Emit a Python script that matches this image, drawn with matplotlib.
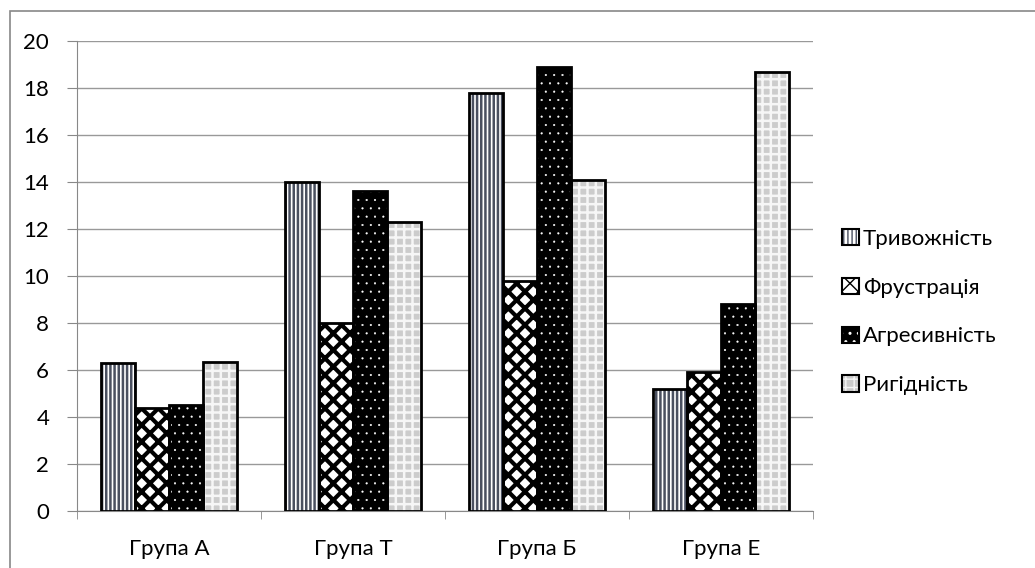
import matplotlib
matplotlib.use("Agg")
import matplotlib.pyplot as plt
import numpy as np
from matplotlib.patches import Rectangle

plt.rcParams["font.family"] = ["Lato", "DejaVu Sans"]

groups = ["Група А", "Група Т", "Група Б", "Група Е"]
series = ["Тривожність", "Фрустрація", "Агресивність", "Ригідність"]
tryvozhnist = [6.3, 14.0, 17.8, 5.2]
frustratsiia = [4.4, 8.0, 9.8, 5.9]
agresyvnist = [4.5, 13.6, 18.9, 8.8]
rygidnist = [6.35, 12.3, 14.1, 18.7]
values = [tryvozhnist, frustratsiia, agresyvnist, rygidnist]

# face colour, hatch, hatch colour, hatch line width
styles = [
    ("white", "||||", "#4a5060", 1.8),
    ("white", "xx", "black", 3.0),
    ("black", "..", "white", 0.3),
    ("#cccccc", "++", "#f6f6f6", 1.8),
]

fig = plt.figure(figsize=(10.35, 5.68), dpi=100)
ax = fig.add_axes([77 / 1035, 1 - 511 / 568, (813 - 77) / 1035, (511 - 41) / 568])

x = np.arange(len(groups))
w = 0.186
handles = []
for i, (vals, (fc, hatch, hc, hlw)) in enumerate(zip(values, styles)):
    pos = x + (i - 1.5) * w
    with plt.rc_context({"hatch.linewidth": hlw}):
        ax.bar(pos, vals, w, color=fc, hatch=hatch, edgecolor=hc, linewidth=0, zorder=2)
        fill = Rectangle((0, 0), 1, 1, facecolor=fc, hatch=hatch, edgecolor=hc, linewidth=0)
    ax.bar(pos, vals, w, fill=False, edgecolor="black", linewidth=2, zorder=3)
    border = Rectangle((0, 0), 1, 1, fill=False, edgecolor="black", linewidth=1.5)
    handles.append((fill, border))

ax.set_xlim(-0.5, 3.5)
ax.set_ylim(0, 20)
ax.set_yticks(range(0, 21, 2))
ax.set_xticks(x)
ax.set_xticklabels(groups, fontsize=16)
ax.set_xticks(np.arange(-0.5, 4, 1), minor=True)
ax.tick_params(axis="x", which="major", length=0, pad=20)
ax.tick_params(axis="x", which="minor", length=6, color="#888888", direction="out")
ax.tick_params(axis="y", length=7, color="#888888", labelsize=16, pad=13)
ax.grid(axis="y", color="#999999", linewidth=1, zorder=0)
ax.set_axisbelow(True)
for s in ["top", "right"]:
    ax.spines[s].set_visible(False)
for s in ["left", "bottom"]:
    ax.spines[s].set_color("#888888")

leg = fig.legend(handles, series, loc="center left", bbox_to_anchor=(822 / 1035, 1 - 312 / 568),
                 frameon=False, fontsize=16, handlelength=0.75, handleheight=0.75,
                 handletextpad=0.2, labelspacing=1.3)

fig.patches.append(Rectangle((10 / 1035, -0.1), 1.2, 1.1 - 11 / 568, transform=fig.transFigure,
                             fill=False, edgecolor="#888888", linewidth=1.2))

fig.savefig("out.png", dpi=100)
